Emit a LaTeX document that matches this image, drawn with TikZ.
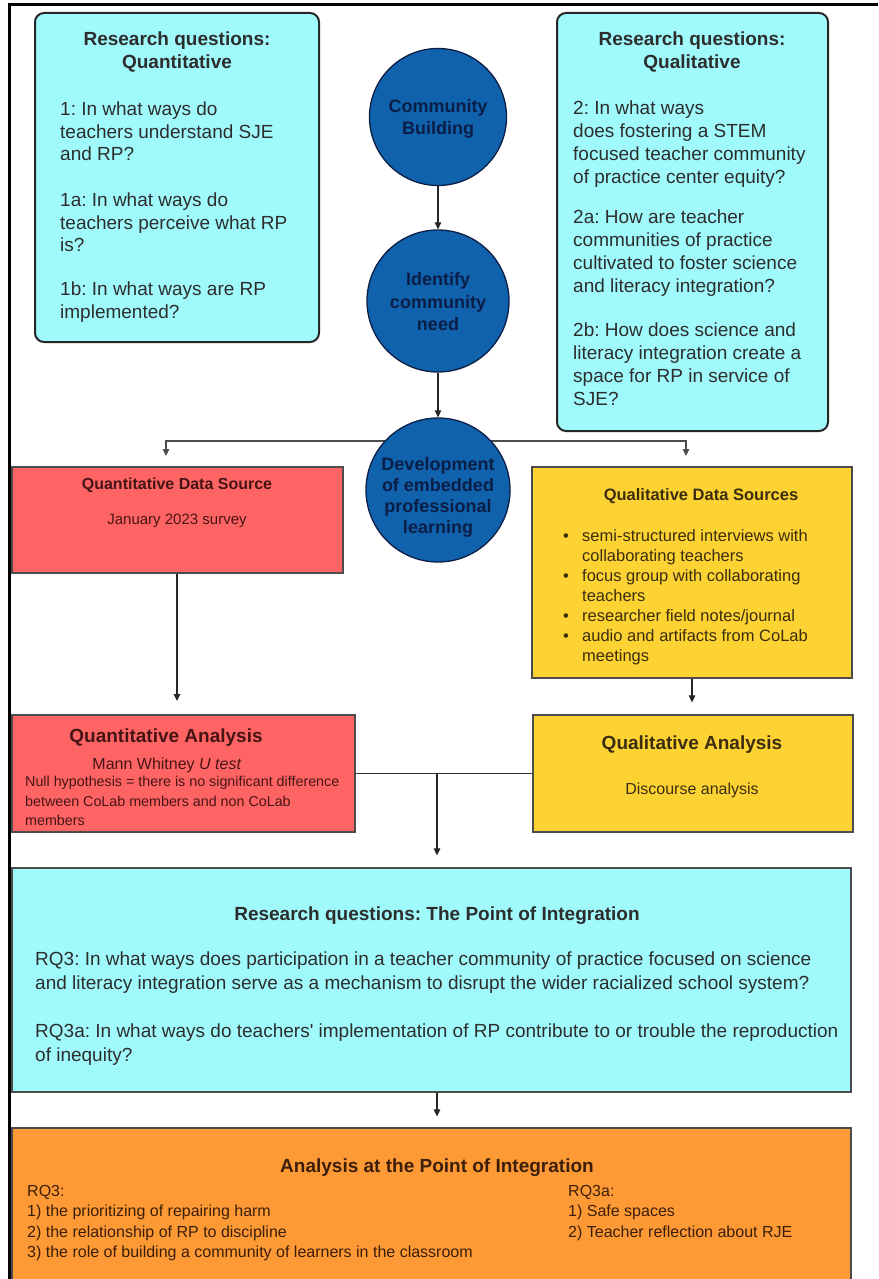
\documentclass[tikz,border=0pt]{standalone}
\usepackage{fontspec}
\setmainfont{Liberation Sans}
\usetikzlibrary{arrows.meta,backgrounds}
\frenchspacing

\definecolor{rqcyan}{RGB}{160,250,252}
\definecolor{qred}{RGB}{255,100,100}
\definecolor{qyellow}{RGB}{252,211,50}
\definecolor{qorange}{RGB}{253,154,53}
\definecolor{cblue}{RGB}{16,98,173}
\definecolor{cnavy}{RGB}{10,30,70}
\definecolor{ink}{RGB}{45,45,45}
\definecolor{redink}{RGB}{70,20,20}
\definecolor{yelink}{RGB}{60,45,15}
\definecolor{orink}{RGB}{60,30,10}

\newcommand\fs[2]{\fontsize{#1}{#2}\selectfont}
\newcommand\qbullet{\makebox[19pt][l]{\textbullet}}
\newcommand\qindent{\hspace*{19pt}}

\begin{document}
\begin{tikzpicture}[x=1pt,y=-1pt,
  arr/.style={-{Triangle[length=7pt,width=6.5pt]}, line width=1.1pt, draw=black!85},
  link/.style={line width=1.1pt, draw=black!80},
  roundbox/.style={draw=black!85, line width=2pt, rounded corners=9pt, inner sep=0pt},
  flatbox/.style={draw=black!70, line width=1.2pt, inner sep=0pt},
  stage/.style={circle, draw=cnavy, line width=1.3pt, fill=cblue, inner sep=0pt,
    minimum size=143pt},
  stagetext/.style={inner sep=0pt, align=center, text=cnavy, font=\bfseries\fs{18}{22}},
  txt/.style={inner sep=0pt, align=left},
  ctxt/.style={inner sep=0pt, align=center}]
\useasboundingbox (0,0) rectangle (878,1279);
\begin{scope}[on background layer]
  \fill[white] (0,0) rectangle (878,1279);
\end{scope}

% outer frame (top and left edges)
\draw[line width=3pt, black] (878,5) -- (9,5) -- (9,1279);

% research question boxes
\node[roundbox, fill=rqcyan, minimum width=284pt, minimum height=329pt] (rqquant) at (177,177.5) {};
\node[ctxt, font=\bfseries\fs{19}{23}, text=ink] (rqquantT) at (177,52) {Research questions:\\Quantitative};
\node[txt, anchor=north west, font=\fs{19}{22.5}, text=ink] (rq1) at (60,102) {1: In what ways do\\teachers understand SJE\\and RP?};
\node[txt, anchor=north west, font=\fs{19}{22.5}, text=ink] (rq1a) at (60,193) {1a: In what ways do\\teachers perceive what RP\\is?};
\node[txt, anchor=north west, font=\fs{19}{22.5}, text=ink] (rq1b) at (60,282) {1b: In what ways are RP\\implemented?};

\node[roundbox, fill=rqcyan, minimum width=271pt, minimum height=418pt] (rqqual) at (692.5,222) {};
\node[ctxt, font=\bfseries\fs{19}{23}, text=ink] (rqqualT) at (692,52) {Research questions:\\Qualitative};
\node[txt, anchor=north west, font=\fs{19}{23}, text=ink] (rq2) at (573,101) {2: In what ways\\does fostering a STEM\\focused teacher community\\of practice center equity?};
\node[txt, anchor=north west, font=\fs{19}{23}, text=ink] (rq2a) at (573,210) {2a: How are teacher\\communities of practice\\cultivated to foster science\\and literacy integration?};
\node[txt, anchor=north west, font=\fs{19}{23}, text=ink] (rq2b) at (573,323) {2b: How does science and\\literacy integration create a\\space for RP in service of\\SJE?};

% stages of the programme
\node[stage, minimum size=137pt] (c1) at (438,117) {};
\node[stagetext] (c1T) at (438,119) {Community\\Building};
\node[stage, minimum size=142pt] (c2) at (438,301) {};
\node[stagetext, font=\bfseries\fs{18}{22.5}] (c2T) at (438,302) {Identify\\community\\need};
\node[stage, minimum size=144pt] (c3) at (438,490) {};
\node[stagetext, font=\bfseries\fs{18}{21}] (c3T) at (438,497) {Development\\of embedded\\professional\\learning};

\draw[arr] (c1.south) -- (c2.north);
\draw[arr] (c2.south) -- (c3.north);

% data sources
\node[flatbox, fill=qred, minimum width=331pt, minimum height=106pt] (qds) at (177.5,520) {};
\node[ctxt, font=\bfseries\fs{16}{20}, text=redink] (qdsT) at (177,485) {Quantitative Data Source};
\node[ctxt, font=\fs{15}{18}, text=redink] (qdsB) at (177,521) {January 2023 survey};

\node[flatbox, fill=qyellow, minimum width=320pt, minimum height=211pt] (qls) at (692,572.5) {};
\node[ctxt, font=\bfseries\fs{16.5}{20}, text=yelink] (qlsT) at (701,496) {Qualitative Data Sources};
\node[txt, anchor=north west, font=\fs{16.5}{20}, text=yelink] (qlsL) at (563,529) {%
  \qbullet semi-structured interviews with\\
  \qindent collaborating teachers\\
  \qbullet focus group with collaborating\\
  \qindent teachers\\
  \qbullet researcher field notes/journal\\
  \qbullet audio and artifacts from CoLab\\
  \qindent meetings};

% split from the professional learning stage
\coordinate (split) at (437,441);
\coordinate (qdsin) at (166,467);
\coordinate (qlsin) at (686,467);
\begin{scope}[on background layer]
  \draw[arr, draw=black!70, shorten >=11pt] (split) -| (qdsin);
  \draw[arr, draw=black!70, shorten >=11pt] (split) -| (qlsin);
\end{scope}

% analyses
\node[flatbox, fill=qred, minimum width=343pt, minimum height=117pt] (qa) at (183.5,773.5) {};
\node[ctxt, font=\bfseries\fs{19}{22}, text=redink] (qaT) at (166,738) {Quantitative Analysis};
\node[ctxt, font=\fs{16}{18}, text=redink] (qaB) at (167,765) {Mann Whitney \textit{U test}};
\node[txt, anchor=north west, font=\fs{14.3}{19.5}, text=redink] (qaN) at (25,776) {Null hypothesis = there is no significant difference\\between CoLab members and non CoLab\\members};

\node[flatbox, fill=qyellow, minimum width=320pt, minimum height=117pt] (qla) at (693,773.5) {};
\node[ctxt, font=\bfseries\fs{19}{22}, text=yelink] (qlaT) at (692,745) {Qualitative Analysis};
\node[ctxt, font=\fs{16}{20}, text=yelink] (qlaB) at (692,790) {Discourse analysis};

\coordinate (qain) at (177,715);
\draw[arr, shorten >=14pt] (qds.south -| qain) -- (qain);
\draw[arr, shorten >=12pt] (qls.south) -- (qls.south |- qla.north);

% point of integration
\node[flatbox, fill=rqcyan, minimum width=839pt, minimum height=224pt] (rqi) at (431.5,980) {};
\node[ctxt, font=\bfseries\fs{19}{23}, text=ink] (rqiT) at (437,916) {Research questions: The Point of Integration};
\node[txt, anchor=north west, font=\fs{19}{24}, text=ink] (rq3) at (35,952) {RQ3: In what ways does participation in a teacher community of practice focused on science\\and literacy integration serve as a mechanism to disrupt the wider racialized school system?};
\node[txt, anchor=north west, font=\fs{19}{24}, text=ink] (rq3a) at (35,1024) {RQ3a: In what ways do teachers\textquotesingle\ implementation of RP contribute to or trouble the reproduction\\of inequity?};

\coordinate (join) at (437,773);
\draw[link] (qa.east) -- (qla.west);
\draw[arr, shorten >=12pt] (join) -- (join |- rqi.north);

% analysis at the point of integration
\node[flatbox, fill=qorange, minimum width=839pt, minimum height=170pt] (api) at (431.5,1213) {};
\node[ctxt, font=\bfseries\fs{19}{22}, text=orink] (apiT) at (437,1168) {Analysis at the Point of Integration};
\node[txt, anchor=north west, font=\fs{16}{20.5}, text=orink] (api3) at (27,1185) {RQ3:\\1) the prioritizing of repairing harm\\2) the relationship of RP to discipline\\3) the role of building a community of learners in the classroom};
\node[txt, anchor=north west, font=\fs{16}{20.5}, text=orink] (api3a) at (568,1185) {RQ3a:\\1) Safe spaces\\2) Teacher reflection about RJE};

\draw[arr, shorten >=11pt] (rqi.south -| join) -- (join |- api.north);
\end{tikzpicture}
\end{document}
